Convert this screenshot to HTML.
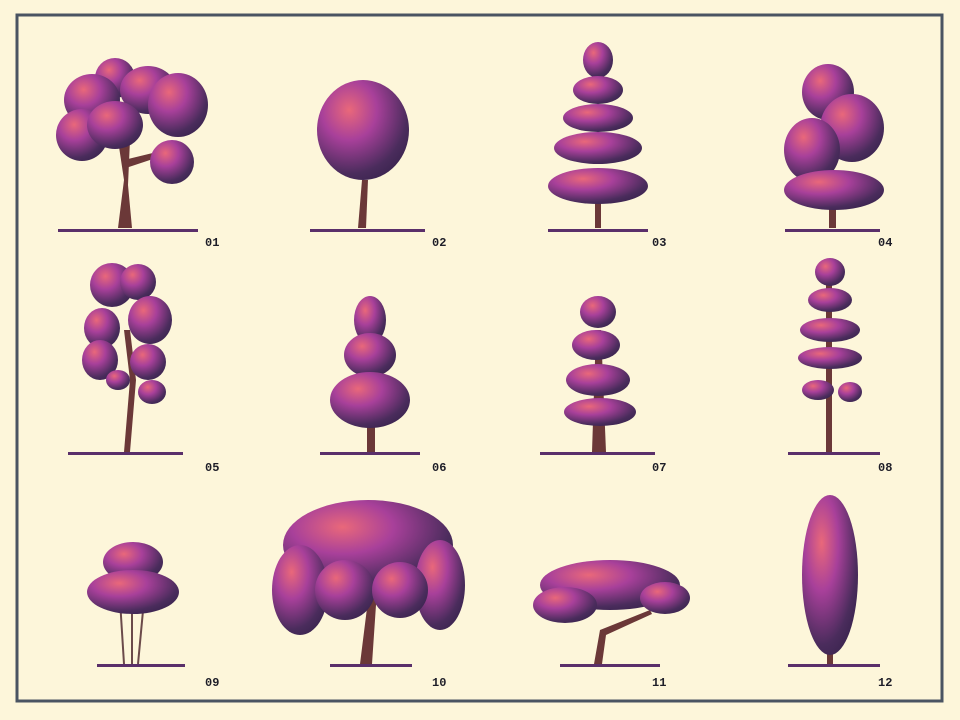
<!DOCTYPE html>
<html><head><meta charset="utf-8"><style>
html,body{margin:0;padding:0;background:#fdf6da;}
svg{display:block}
text{font-family:"Liberation Mono",monospace;font-weight:bold;font-size:12px;fill:#1e1e28}
</style></head><body>
<svg width="960" height="720" viewBox="0 0 960 720">
<defs>
<radialGradient id="fol" cx="35%" cy="30%" r="75%">
<stop offset="0" stop-color="#e9687a"/><stop offset="0.4" stop-color="#a8409a"/><stop offset="0.85" stop-color="#4a2c5c"/><stop offset="1" stop-color="#3e2652"/>
</radialGradient>
</defs>
<rect width="960" height="720" fill="#fdf6da"/>
<rect x="17" y="15" width="925" height="686" fill="none" stroke="#4a5462" stroke-width="3"/>

<g>
<path d="M118 228 L124 180 L118 140 L124 120 L130 140 L128 185 L132 228 Z" fill="#6b3838"/>
<path d="M124 160 L165 150 L165 155 L126 168 Z" fill="#6b3838"/>
<g fill="url(#fol)"><ellipse cx="115" cy="78" rx="20" ry="20"/><ellipse cx="92" cy="100" rx="28" ry="26"/><ellipse cx="82" cy="135" rx="26" ry="26"/><ellipse cx="148" cy="90" rx="28" ry="24"/><ellipse cx="178" cy="105" rx="30" ry="32"/><ellipse cx="172" cy="162" rx="22" ry="22"/><ellipse cx="115" cy="125" rx="28" ry="24"/></g>
<rect x="58" y="229" width="140" height="3" fill="#5a2f6a"/>
</g>
<text x="205" y="246">01</text>

<g>
<path d="M358 228 L362 180 L368 180 L366 228 Z" fill="#6b3838"/>
<ellipse cx="363" cy="130" rx="46" ry="50" fill="url(#fol)"/>
<rect x="310" y="229" width="115" height="3" fill="#5a2f6a"/>
</g>
<text x="432" y="246">02</text>

<g>
<rect x="595" y="190" width="6" height="38" fill="#6b3838"/>
<g fill="url(#fol)"><ellipse cx="598" cy="60" rx="15" ry="18"/><ellipse cx="598" cy="90" rx="25" ry="14"/><ellipse cx="598" cy="118" rx="35" ry="14"/><ellipse cx="598" cy="148" rx="44" ry="16"/><ellipse cx="598" cy="186" rx="50" ry="18"/></g>
<rect x="548" y="229" width="100" height="3" fill="#5a2f6a"/>
</g>
<text x="652" y="246">03</text>

<g>
<rect x="829" y="180" width="7" height="48" fill="#6b3838"/>
<g fill="url(#fol)"><ellipse cx="828" cy="92" rx="26" ry="28"/><ellipse cx="852" cy="128" rx="32" ry="34"/><ellipse cx="812" cy="150" rx="28" ry="32"/><ellipse cx="834" cy="190" rx="50" ry="20"/></g>
<rect x="785" y="229" width="95" height="3" fill="#5a2f6a"/>
</g>
<text x="878" y="246">04</text>

<g>
<path d="M124 452 L130 380 L124 330 L130 330 L136 380 L130 452 Z" fill="#6b3838"/>
<g fill="url(#fol)"><ellipse cx="112" cy="285" rx="22" ry="22"/><ellipse cx="138" cy="282" rx="18" ry="18"/><ellipse cx="150" cy="320" rx="22" ry="24"/><ellipse cx="102" cy="328" rx="18" ry="20"/><ellipse cx="100" cy="360" rx="18" ry="20"/><ellipse cx="148" cy="362" rx="18" ry="18"/><ellipse cx="152" cy="392" rx="14" ry="12"/><ellipse cx="118" cy="380" rx="12" ry="10"/></g>
<rect x="68" y="452" width="115" height="3" fill="#5a2f6a"/>
</g>
<text x="205" y="471">05</text>

<g>
<rect x="367" y="420" width="8" height="32" fill="#6b3838"/>
<g fill="url(#fol)"><ellipse cx="370" cy="320" rx="16" ry="24"/><ellipse cx="370" cy="355" rx="26" ry="22"/><ellipse cx="370" cy="400" rx="40" ry="28"/></g>
<rect x="320" y="452" width="100" height="3" fill="#5a2f6a"/>
</g>
<text x="432" y="471">06</text>

<g>
<path d="M592 452 L596 330 L601 330 L606 452 Z" fill="#6b3838"/>
<g fill="url(#fol)"><ellipse cx="598" cy="312" rx="18" ry="16"/><ellipse cx="596" cy="345" rx="24" ry="15"/><ellipse cx="598" cy="380" rx="32" ry="16"/><ellipse cx="600" cy="412" rx="36" ry="14"/></g>
<rect x="540" y="452" width="115" height="3" fill="#5a2f6a"/>
</g>
<text x="652" y="471">07</text>

<g>
<rect x="826" y="280" width="6" height="172" fill="#6b3838"/>
<g fill="url(#fol)"><ellipse cx="830" cy="272" rx="15" ry="14"/><ellipse cx="830" cy="300" rx="22" ry="12"/><ellipse cx="830" cy="330" rx="30" ry="12"/><ellipse cx="830" cy="358" rx="32" ry="11"/><ellipse cx="818" cy="390" rx="16" ry="10"/><ellipse cx="850" cy="392" rx="12" ry="10"/></g>
<rect x="788" y="452" width="92" height="3" fill="#5a2f6a"/>
</g>
<text x="878" y="471">08</text>

<g>
<g stroke="#6b4a4a" stroke-width="2"><line x1="120" y1="600" x2="124" y2="664"/><line x1="132" y1="600" x2="132" y2="664"/><line x1="144" y1="600" x2="138" y2="664"/></g>
<g fill="url(#fol)"><ellipse cx="133" cy="562" rx="30" ry="20"/><ellipse cx="133" cy="592" rx="46" ry="22"/></g>
<rect x="97" y="664" width="88" height="3" fill="#5a2f6a"/>
</g>
<text x="205" y="686">09</text>

<g>
<path d="M360 664 L368 600 L400 560 L404 564 L376 605 L372 664 Z" fill="#6b3838"/>
<g fill="url(#fol)"><ellipse cx="368" cy="545" rx="85" ry="45"/><ellipse cx="300" cy="590" rx="28" ry="45"/><ellipse cx="440" cy="585" rx="25" ry="45"/><ellipse cx="345" cy="590" rx="30" ry="30"/><ellipse cx="400" cy="590" rx="28" ry="28"/></g>
<rect x="330" y="664" width="82" height="3" fill="#5a2f6a"/>
</g>
<text x="432" y="686">10</text>

<g>
<path d="M594 664 L600 630 L650 610 L652 614 L606 635 L602 664 Z" fill="#6b3838"/>
<g fill="url(#fol)"><ellipse cx="610" cy="585" rx="70" ry="25"/><ellipse cx="565" cy="605" rx="32" ry="18"/><ellipse cx="665" cy="598" rx="25" ry="16"/></g>
<rect x="560" y="664" width="100" height="3" fill="#5a2f6a"/>
</g>
<text x="652" y="686">11</text>

<g>
<rect x="827" y="640" width="6" height="24" fill="#6b3838"/>
<ellipse cx="830" cy="575" rx="28" ry="80" fill="url(#fol)"/>
<rect x="788" y="664" width="92" height="3" fill="#5a2f6a"/>
</g>
<text x="878" y="686">12</text>
</svg>
</body></html>
